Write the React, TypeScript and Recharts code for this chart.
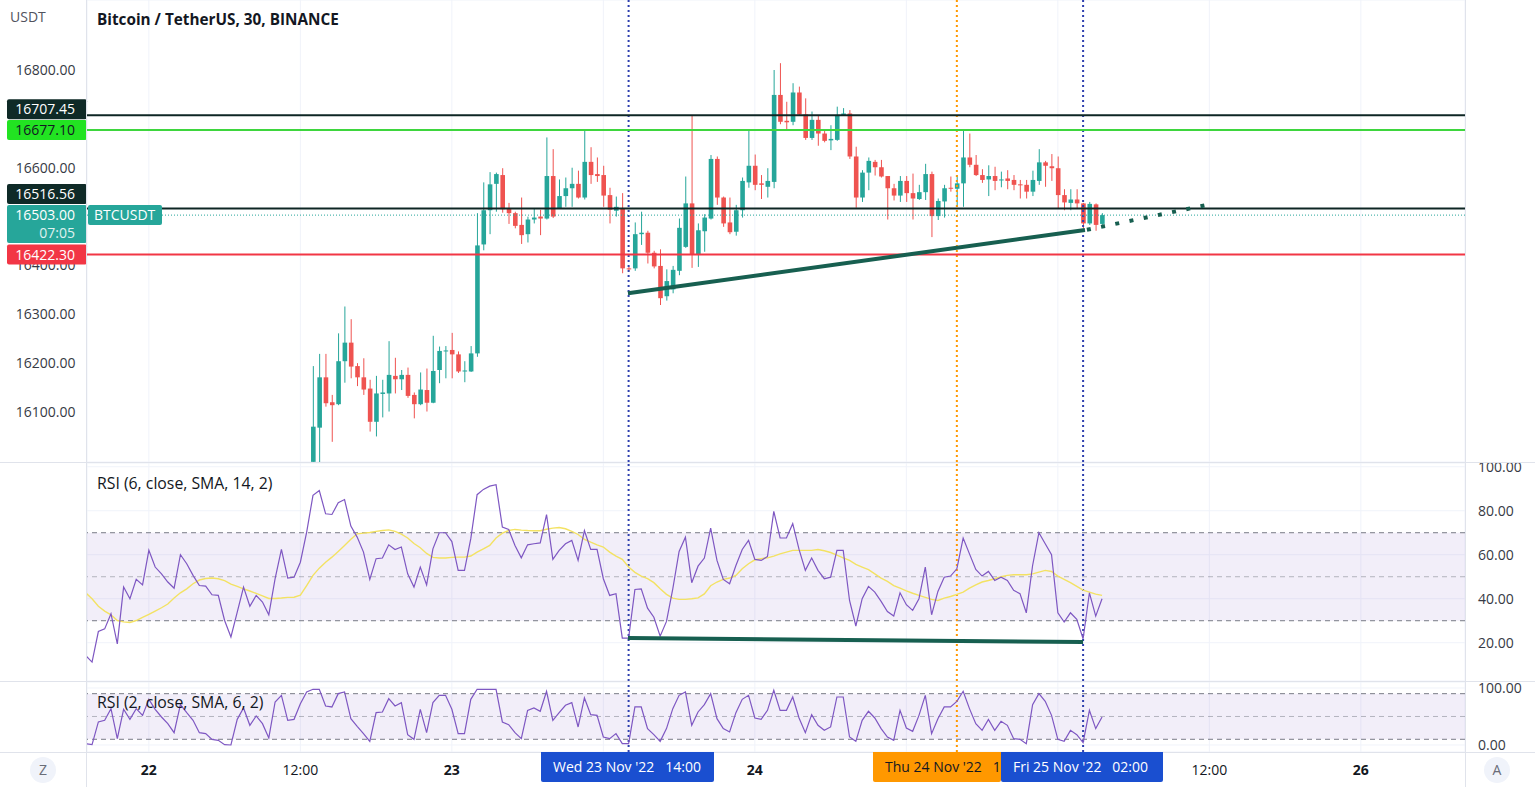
import React from "react";
import {
  ComposedChart,
  Bar,
  Line,
  XAxis,
  YAxis,
  CartesianGrid,
  ReferenceLine,
  ReferenceArea,
} from "recharts";

// half-hour steps counted from 22 Nov 00:00
const FIRST_CANDLE = 26;
const FIRST_RSI = -10;

const opens = [
  15998, 16068, 16171, 16120, 16116, 16204, 16242, 16194, 16171, 16148,
  16080, 16137, 16138, 16174, 16167, 16176, 16135, 16116, 16145, 16119,
  16186, 16224, 16227, 16218, 16184, 16183, 16220, 16443, 16513, 16567,
  16585, 16517, 16507, 16483, 16464, 16494, 16500, 16496, 16583, 16517,
  16542, 16558, 16567, 16539, 16612, 16587, 16585, 16544, 16512, 16517,
  16394, 16394, 16464, 16467, 16426, 16399, 16337, 16351, 16389, 16438,
  16527, 16423, 16470, 16496, 16618, 16539, 16488, 16469, 16513, 16570,
  16604, 16568, 16561, 16571, 16749, 16696, 16694, 16754, 16709, 16661,
  16698, 16670, 16656, 16657, 16708, 16711, 16623, 16539, 16590, 16612,
  16601, 16583, 16558, 16543, 16573, 16548, 16536, 16550, 16587, 16501,
  16531, 16559, 16557, 16568, 16621, 16606, 16585, 16576, 16583, 16575,
  16578, 16575, 16566, 16565, 16551, 16573, 16611, 16603, 16599, 16544,
  16528, 16535, 16527, 16486, 16525, 16485,
];
const highs = [
  16194, 16219, 16219, 16135, 16261, 16316, 16290, 16200, 16210, 16166,
  16174, 16166, 16245, 16211, 16186, 16191, 16140, 16181, 16189, 16256,
  16234, 16235, 16262, 16224, 16204, 16235, 16507, 16570, 16591, 16590,
  16599, 16528, 16510, 16539, 16500, 16517, 16514, 16662, 16638, 16576,
  16580, 16600, 16594, 16677, 16642, 16621, 16604, 16559, 16541, 16548,
  16398, 16488, 16510, 16471, 16430, 16433, 16392, 16399, 16496, 16582,
  16708, 16486, 16505, 16626, 16623, 16541, 16539, 16524, 16580, 16677,
  16627, 16585, 16599, 16800, 16814, 16735, 16773, 16766, 16742, 16715,
  16707, 16679, 16687, 16725, 16722, 16718, 16643, 16595, 16621, 16616,
  16616, 16583, 16567, 16583, 16583, 16588, 16565, 16608, 16592, 16537,
  16565, 16582, 16585, 16676, 16670, 16626, 16597, 16605, 16602, 16592,
  16595, 16585, 16575, 16575, 16594, 16638, 16614, 16628, 16623, 16556,
  16556, 16556, 16528, 16530, 16527, 16507,
];
const lows = [
  15998, 15996, 16111, 16039, 16114, 16160, 16169, 16153, 16135, 16060,
  16050, 16089, 16101, 16138, 16145, 16129, 16087, 16114, 16101, 16118,
  16159, 16169, 16169, 16180, 16161, 16182, 16213, 16431, 16464, 16510,
  16508, 16485, 16476, 16444, 16447, 16486, 16462, 16494, 16497, 16517,
  16520, 16520, 16537, 16535, 16567, 16571, 16520, 16486, 16500, 16384,
  16388, 16389, 16442, 16404, 16394, 16319, 16328, 16343, 16380, 16436,
  16395, 16397, 16428, 16494, 16524, 16479, 16464, 16461, 16498, 16559,
  16554, 16536, 16539, 16558, 16689, 16679, 16687, 16708, 16657, 16657,
  16645, 16652, 16636, 16655, 16706, 16618, 16518, 16530, 16554, 16584,
  16580, 16494, 16533, 16530, 16530, 16494, 16534, 16534, 16458, 16493,
  16498, 16551, 16520, 16520, 16601, 16583, 16569, 16542, 16554, 16560,
  16556, 16554, 16537, 16537, 16542, 16565, 16561, 16573, 16517, 16513,
  16513, 16517, 16476, 16483, 16471, 16483,
];
const closes = [
  16070, 16171, 16118, 16114, 16204, 16242, 16193, 16171, 16146, 16080,
  16138, 16140, 16176, 16167, 16176, 16133, 16116, 16146, 16119, 16184,
  16225, 16226, 16218, 16183, 16185, 16220, 16441, 16513, 16566, 16587,
  16515, 16507, 16481, 16462, 16494, 16498, 16496, 16583, 16500, 16542,
  16558, 16567, 16539, 16612, 16585, 16583, 16543, 16514, 16520, 16394,
  16392, 16464, 16467, 16426, 16398, 16333, 16368, 16391, 16477, 16527,
  16423, 16472, 16498, 16618, 16539, 16486, 16468, 16513, 16573, 16604,
  16565, 16565, 16573, 16749, 16694, 16693, 16754, 16709, 16661, 16698,
  16670, 16655, 16659, 16708, 16711, 16623, 16539, 16590, 16614, 16601,
  16582, 16558, 16543, 16573, 16548, 16537, 16550, 16587, 16501, 16532,
  16558, 16557, 16568, 16621, 16606, 16585, 16575, 16583, 16573, 16576,
  16573, 16565, 16564, 16551, 16575, 16611, 16604, 16599, 16544, 16529,
  16535, 16527, 16486, 16526, 16483, 16503,
];

const rsi6 = [
  14.2, 11.2, 25.1, 26.3, 33.2, 19.5, 45.3, 40.0, 48.8, 46.3,
  62.0, 54.4, 51.3, 47.6, 44.8, 60.0, 55.9, 50.6, 46.0, 45.7,
  41.8, 41.5, 30.1, 22.6, 33.9, 45.3, 36.6, 41.5, 38.5, 32.7,
  49.1, 62.4, 49.4, 49.8, 56.6, 70.3, 87.0, 89.2, 78.6, 78.3,
  83.6, 85.1, 73.0, 68.0, 61.2, 48.8, 58.2, 58.5, 64.5, 62.4,
  63.5, 51.3, 45.3, 54.4, 46.3, 62.7, 70.0, 70.0, 66.0, 52.9,
  52.9, 67.3, 87.3, 89.7, 91.2, 91.8, 72.6, 71.5, 64.2, 58.6,
  64.5, 65.0, 65.4, 78.2, 57.9, 62.0, 65.0, 66.5, 57.4, 71.0,
  62.4, 62.4, 49.1,
  41.5, 42.3, 22.1, 22.1, 44.2, 44.5, 35.7, 31.6, 23.0, 29.7,
  44.5, 61.5, 68.0, 47.3, 54.8, 58.5, 72.1, 57.4, 48.8, 46.8,
  55.1, 62.4, 66.5, 57.9, 57.4, 59.2, 79.7, 67.6, 67.6, 74.1,
  62.4, 52.9, 58.5, 52.9, 49.1, 49.8, 62.0, 62.0, 39.2, 27.6,
  40.0, 45.6, 43.0, 38.8, 34.2, 32.1, 42.7, 37.3, 34.7, 40.0,
  54.4, 32.7, 43.3, 49.8, 50.3, 53.6, 67.6, 60.4, 53.3, 50.3,
  52.4, 48.3, 49.8, 48.3, 43.8, 42.3, 33.6, 55.1, 70.0, 65.0,
  60.0, 33.6, 29.4, 33.6, 30.6, 21.8, 42.7, 32.1, 40.0,
];
const rsi6Ma = [
  42.7, 40.0, 36.6, 34.4, 32.7, 30.1, 29.5, 29.2, 30.1, 31.5,
  32.9, 34.4, 35.9, 37.6, 40.3, 42.7, 44.5, 46.8, 48.5, 49.2,
  49.4, 49.1, 48.2, 46.6, 45.6, 44.5, 43.5, 42.4, 41.3, 40.1,
  40.1, 40.3, 40.6, 40.7, 41.6, 46.0, 50.6, 53.9, 56.6, 58.9,
  61.5, 64.2, 67.0, 69.5, 69.8, 70.1, 70.6, 71.0, 71.3, 70.6,
  69.4, 67.6, 65.1, 63.2, 60.6, 58.8, 58.5, 58.5, 58.8, 58.9,
  58.9, 59.4, 61.2, 62.7, 64.2, 67.6, 69.8, 71.0, 71.5, 71.2,
  71.0, 70.9, 70.9, 71.6, 72.1, 72.4, 71.8, 70.6, 69.2, 67.0,
  65.7, 64.5, 63.5,
  61.2, 59.4, 57.9, 54.4, 52.0, 50.3, 49.1, 47.3, 44.5, 42.0,
  40.3, 39.7, 39.7, 40.0, 40.4, 42.2, 45.9, 47.6, 48.8, 49.4,
  50.6, 53.6, 55.9, 57.7, 58.2, 58.6, 59.4, 60.4, 61.2, 62.0,
  62.0, 62.0, 62.0, 62.4, 61.8, 61.0, 59.8, 58.6, 57.4, 55.6,
  54.4, 53.2, 51.3, 49.4, 47.9, 46.0, 44.8, 43.6, 42.5, 41.5,
  40.6, 39.7, 39.2, 40.3, 41.0, 42.0, 43.0, 44.8, 46.3, 47.6,
  48.3, 49.1, 50.0, 50.6, 50.9, 50.9, 50.9, 51.3, 52.1, 52.9,
  52.4, 50.3, 48.8, 47.3, 45.6, 43.9, 43.0, 42.1, 41.5,
];
const rsi2 = [
  2.3, 0.6, 40.4, 43.3, 63.7, 11.1, 62.6, 45.0, 63.7, 52.0,
  80.1, 62.6, 49.1, 37.4, 21.6, 70.8, 56.7, 43.3, 21.6, 19.9,
  9.9, 8.2, 0.6, 0, 45.0, 64.9, 34.5, 50.9, 37.4, 12.3,
  75.4, 87.1, 43.3, 45.0, 72.5, 93.0, 97.7, 97.7, 68.4, 66.7,
  90.1, 93.0, 46.2, 32.7, 19.9, 6.4, 56.7, 57.9, 81.3, 68.4,
  74.3, 18.1, 9.9, 62.6, 21.6, 74.3, 87.1, 87.1, 62.6, 19.9,
  19.9, 80.1, 97.7, 97.7, 97.7, 97.7, 40.4, 35.7, 21.6, 11.1,
  60.8, 64.9, 59.1, 94.2, 43.3, 56.7, 69.6, 74.3, 31.6, 82.5,
  53.2, 52.0, 14.0,
  11.1, 19.9, 2.3, 2.3, 66.7, 66.7, 28.7, 18.1, 6.4, 28.7,
  63.8, 87.1, 93.0, 34.5, 57.9, 70.8, 90.1, 46.2, 28.7, 22.8,
  56.7, 80.1, 87.1, 47.4, 45.0, 60.8, 95.9, 60.8, 60.8, 84.2,
  47.4, 21.6, 53.2, 34.5, 25.7, 31.6, 84.2, 84.2, 14.0, 6.4,
  43.3, 59.1, 47.4, 28.7, 14.0, 8.2, 60.8, 29.8, 24.0, 52.0,
  87.1, 19.9, 46.2, 66.7, 66.7, 76.6, 94.2, 63.8, 37.4, 25.7,
  45.0, 25.7, 41.5, 34.5, 11.1, 9.9, 2.3, 70.8, 90.1, 76.6,
  52.0, 9.9, 6.4, 25.7, 18.1, 4.1, 60.8, 28.7, 49.1,
];

const timeTicks = [0, 24, 48, 72, 96, 120, 144, 168, 192];
const timeLabels = ["22", "12:00", "23", "12:00", "24", "12:00", "25", "12:00", "26"];
// ticks covered by the marked-date boxes on the time scale
const coveredTimeTicks = [72, 120, 144];
const priceTicks = [16100, 16200, 16300, 16400, 16500, 16600, 16700, 16800];
// 16500 and 16700 sit fully under the level tags, so only these get a label
const priceLabelTicks = [16100, 16200, 16300, 16400, 16600, 16800];
const rsiTicks = [20, 40, 60, 80, 100];
const rsi2Ticks = [0, 100];

// horizontal levels drawn on the price pane
const levelTop = 16707.45;
const levelGreen = 16677.1;
const levelMid = 16516.56;
const lastPrice = 16503.0;
const levelRed = 16422.3;

// marked bars: Wed 23 Nov 14:00, Thu 24 Nov 16:00, Fri 25 Nov 02:00
const markA = 76;
const markB = 128;
const markC = 148;

// drawn trend lines (bar index, value)
const priceTrend = [{ x: 75.9, y: 16343 }, { x: 148.3, y: 16472.5 }];
const priceTrendExt = [{ x: 148.6, y: 16473 }, { x: 167.3, y: 16523 }];
const rsiTrend = [{ x: 75.9, y: 22.1 }, { x: 148, y: 20.3 }];

const X_DOMAIN = [-9.8, 208.5];
const PRICE_DOMAIN = [15997.7, 16943.3];
const FONT = "'Open Sans', 'Noto Sans', sans-serif";
const UP = "#26a69a";
const DOWN = "#ef5350";
const TREND = "#175f50";
const BLUE = "#2e3fae";
const ORANGE = "#ff9800";
const GRID = "#f0f3fa";
const SEP = "#e0e3eb";
const AXIS_TXT = "#363a45";

const candleData = opens.map((o, i) => ({
  t: FIRST_CANDLE + i,
  open: o,
  high: highs[i],
  low: lows[i],
  close: closes[i],
  range: [lows[i], highs[i]],
}));

const rsiData = rsi6.map((v, i) => ({
  t: FIRST_RSI + i,
  rsi: v,
  ma: rsi6Ma[i],
  rsi2: rsi2[i],
}));

function Candle(props: any) {
  const { x, y, width, height, payload } = props;
  if (!payload || x == null) return null;
  const { open, close, high, low } = payload;
  const color = close >= open ? UP : DOWN;
  const h = Math.abs(height);
  const top = height < 0 ? y + height : y;
  const k = high > low ? h / (high - low) : 0;
  const yo = top + (high - open) * k;
  const yc = top + (high - close) * k;
  const cx = x + width / 2;
  const bodyTop = Math.min(yo, yc);
  const bodyH = Math.max(1, Math.abs(yo - yc));
  return (
    <g>
      <line x1={cx} x2={cx} y1={top} y2={top + h} stroke={color} strokeWidth={1} />
      <rect x={cx - 2.3} y={bodyTop} width={4.6} height={bodyH} fill={color} />
    </g>
  );
}

function PriceTag(props: any) {
  const { viewBox, text, sub, bg, fg, dy = 0, tag } = props;
  if (!viewBox) return null;
  const y = viewBox.y + dy;
  const h = sub ? 38 : 20;
  const left = viewBox.x;
  return (
    <g>
      <rect x={left - 80} y={y - 10} width={80} height={h} rx={2} fill={bg} />
      <text x={left - 12} y={y + 5} textAnchor="end" fontSize={14} fill={fg} fontFamily={FONT}>
        {text}
      </text>
      {sub && (
        <text x={left - 12} y={y + 23} textAnchor="end" fontSize={14} fill={fg} fontFamily={FONT} opacity={0.85}>
          {sub}
        </text>
      )}
      {tag && (
        <g>
          <rect x={left + 1} y={y - 10} width={74} height={20} rx={2} fill={bg} />
          <text x={left + 7} y={y + 5} fontSize={14} fill={fg} fontFamily={FONT}>
            {tag}
          </text>
        </g>
      )}
    </g>
  );
}

function TimeTick(props: any) {
  const { x, y, payload } = props;
  if (coveredTimeTicks.includes(payload.value)) return null;
  const label = timeLabels[timeTicks.indexOf(payload.value)] ?? "";
  const bold = !label.includes(":");
  return (
    <text x={x} y={y} dy={15} textAnchor="middle" fontSize={14} fontWeight={bold ? 700 : 400} fill="#131722" fontFamily={FONT}>
      {label}
    </text>
  );
}

const rightTick = { fontSize: 14, fill: AXIS_TXT, fontFamily: FONT };

const dateBox = (left: number, width: number, bg: string, color: string, text: string) => (
  <div
    style={{
      position: "absolute",
      left,
      top: 752,
      width,
      height: 30,
      background: bg,
      color,
      fontSize: 14,
      lineHeight: "30px",
      whiteSpace: "pre",
      overflow: "hidden",
      paddingLeft: 12,
      boxSizing: "border-box",
      borderRadius: "0 0 2px 2px",
    }}
  >
    {text}
  </div>
);

const circleBtn = (left: number, letter: string) => (
  <div
    style={{
      position: "absolute",
      left,
      top: 757,
      width: 26,
      height: 26,
      borderRadius: 13,
      background: "#f0f3fa",
      color: "#6a6d78",
      fontSize: 14,
      lineHeight: "26px",
      textAlign: "center",
    }}
  >
    {letter}
  </div>
);

export default function App() {
  const vLines = (
    <>
      <ReferenceLine x={markA} stroke={BLUE} strokeWidth={2} strokeDasharray="2 3" />
      <ReferenceLine x={markB} stroke={ORANGE} strokeWidth={2} strokeDasharray="2 3" />
      <ReferenceLine x={markC} stroke={BLUE} strokeWidth={2} strokeDasharray="2 3" />
    </>
  );

  return (
    <div
      style={{
        position: "absolute",
        left: 0,
        top: 0,
        width: 1535,
        height: 787,
        background: "#ffffff",
        fontFamily: FONT,
        overflow: "hidden",
      }}
    >
      {/* price scale labels, underneath so the level tags cover them */}
      <div style={{ position: "absolute", left: 0, top: 0 }}>
        <ComposedChart width={1535} height={462} data={candleData} margin={{ top: 0, right: 70, bottom: 0, left: 0 }}>
          <XAxis dataKey="t" type="number" domain={X_DOMAIN} allowDataOverflow hide />
          <YAxis
            orientation="left"
            width={87}
            domain={PRICE_DOMAIN}
            allowDataOverflow
            ticks={priceLabelTicks}
            interval={0}
            tickFormatter={(v: number) => v.toFixed(2)}
            tick={{ fontSize: 14, fill: AXIS_TXT, fontFamily: FONT }}
            tickLine={false}
            tickMargin={5.5}
            axisLine={false}
          />
        </ComposedChart>
      </div>

      {/* price pane */}
      <div style={{ position: "absolute", left: 0, top: 0 }}>
        <ComposedChart width={1535} height={462} data={candleData} margin={{ top: 0, right: 70, bottom: 0, left: 0 }}>
          <CartesianGrid stroke={GRID} />
          <XAxis dataKey="t" type="number" domain={X_DOMAIN} allowDataOverflow ticks={timeTicks} hide />
          <YAxis
            orientation="left"
            width={87}
            domain={PRICE_DOMAIN}
            allowDataOverflow
            ticks={priceTicks}
            tick={false}
            tickLine={false}
            axisLine={false}
          />
          {vLines}
          <Bar dataKey="range" barSize={5} shape={<Candle />} isAnimationActive={false} />
          <ReferenceLine y={levelTop} stroke="#0e2624" strokeWidth={2}
            label={<PriceTag text="16707.45" bg="#0f2a27" fg="#ffffff" dy={-6} />} />
          <ReferenceLine y={levelGreen} stroke="#3ed63e" strokeWidth={2}
            label={<PriceTag text="16677.10" bg="#22e322" fg="#131722" />} />
          <ReferenceLine y={levelMid} stroke="#0e2624" strokeWidth={2}
            label={<PriceTag text="16516.56" bg="#0f2a27" fg="#ffffff" dy={-14.5} />} />
          <ReferenceLine y={lastPrice} stroke={UP} strokeWidth={1} strokeDasharray="1 2"
            label={<PriceTag text="16503.00" sub="07:05" tag="BTCUSDT" bg={UP} fg="#ffffff" />} />
          <ReferenceLine y={levelRed} stroke="#f23645" strokeWidth={2}
            label={<PriceTag text="16422.30" bg="#f23645" fg="#ffffff" />} />
          <ReferenceLine segment={priceTrend} stroke={TREND} strokeWidth={4} ifOverflow="visible" />
          <ReferenceLine segment={priceTrendExt} stroke={TREND} strokeWidth={4} strokeDasharray="4 10.5" ifOverflow="visible" />
        </ComposedChart>
      </div>

      {/* RSI 6 pane */}
      <div style={{ position: "absolute", left: 0, top: 462 }}>
        <ComposedChart width={1535} height={220} data={rsiData} margin={{ top: 1, right: 0, bottom: 1, left: 87 }}>
          <CartesianGrid stroke={GRID} />
          <XAxis dataKey="t" type="number" domain={X_DOMAIN} allowDataOverflow ticks={timeTicks} hide />
          <YAxis
            orientation="right"
            width={70}
            domain={[2.6, 101.7]}
            allowDataOverflow
            ticks={rsiTicks}
            interval={0}
            tickFormatter={(v: number) => v.toFixed(2)}
            tick={rightTick}
            tickLine={false}
            tickMargin={7}
            axisLine={false}
          />
          <ReferenceArea y1={30} y2={70} fill="#7e57c2" fillOpacity={0.1} stroke="none" />
          <ReferenceLine y={70} stroke="#787b86" strokeDasharray="5 4" />
          <ReferenceLine y={50} stroke="#787b86" strokeOpacity={0.5} strokeDasharray="5 4" />
          <ReferenceLine y={30} stroke="#787b86" strokeDasharray="5 4" />
          {vLines}
          <Line dataKey="ma" stroke="#f3e263" strokeWidth={1.4} dot={false} isAnimationActive={false} />
          <Line dataKey="rsi" stroke="#7e57c2" strokeWidth={1.2} dot={false} isAnimationActive={false} />
          <ReferenceLine segment={rsiTrend} stroke={TREND} strokeWidth={4} ifOverflow="visible" />
        </ComposedChart>
      </div>

      {/* RSI 2 pane + time axis (svg starts 10px higher so the 100.00 label is whole) */}
      <div style={{ position: "absolute", left: 0, top: 672 }}>
        <ComposedChart width={1535} height={115} data={rsiData} margin={{ top: 10, right: 0, bottom: 0, left: 87 }}>
          <CartesianGrid stroke={GRID} />
          <XAxis
            dataKey="t"
            type="number"
            domain={X_DOMAIN}
            allowDataOverflow
            ticks={timeTicks}
            interval={0}
            tick={<TimeTick />}
            tickLine={false}
            axisLine={false}
            height={35}
          />
          <YAxis
            orientation="right"
            width={70}
            domain={[-12.3, 110.5]}
            allowDataOverflow
            ticks={rsi2Ticks}
            interval={0}
            tickFormatter={(v: number) => v.toFixed(2)}
            tick={rightTick}
            tickLine={false}
            tickMargin={7}
            axisLine={false}
          />
          <ReferenceArea y1={10} y2={90} fill="#7e57c2" fillOpacity={0.1} stroke="none" />
          <ReferenceLine y={90} stroke="#787b86" strokeDasharray="5 4" />
          <ReferenceLine y={50} stroke="#787b86" strokeOpacity={0.5} strokeDasharray="5 4" />
          <ReferenceLine y={10} stroke="#787b86" strokeDasharray="5 4" />
          {vLines}
          <Line dataKey="rsi2" stroke="#7e57c2" strokeWidth={1.2} dot={false} isAnimationActive={false} />
        </ComposedChart>
      </div>

      {/* pane separators */}
      <div style={{ position: "absolute", left: 0, top: 462, width: 1535, height: 1, background: SEP }} />
      <div style={{ position: "absolute", left: 0, top: 681, width: 1535, height: 1, background: SEP }} />
      <div style={{ position: "absolute", left: 0, top: 752, width: 1535, height: 1, background: SEP }} />
      <div style={{ position: "absolute", left: 86, top: 0, width: 1, height: 787, background: SEP }} />
      <div style={{ position: "absolute", left: 1465, top: 0, width: 1, height: 787, background: SEP }} />

      {/* texts */}
      <div style={{ position: "absolute", left: 10, top: 7, fontSize: 14, color: "#50535e" }}>USDT</div>
      <div style={{ position: "absolute", left: 97, top: 9, fontSize: 15.3, fontWeight: 700, color: "#131722" }}>
        Bitcoin / TetherUS, 30, BINANCE
      </div>
      <div style={{ position: "absolute", left: 97, top: 472, fontSize: 15.8, color: "#131722" }}>
        RSI (6, close, SMA, 14, 2)
      </div>
      <div style={{ position: "absolute", left: 97, top: 691, fontSize: 15.8, color: "#131722" }}>
        RSI (2, close, SMA, 6, 2)
      </div>

      {/* marked dates on the time scale */}
      {dateBox(541, 173, "#1a4fd0", "#ffffff", "Wed 23 Nov '22   14:00")}
      {dateBox(873, 128, ORANGE, "#131722", "Thu 24 Nov '22   16:00")}
      {dateBox(1001, 162, "#1a4fd0", "#ffffff", "Fri 25 Nov '22   02:00")}

      {circleBtn(30, "Z")}
      {circleBtn(1484, "A")}
    </div>
  );
}
